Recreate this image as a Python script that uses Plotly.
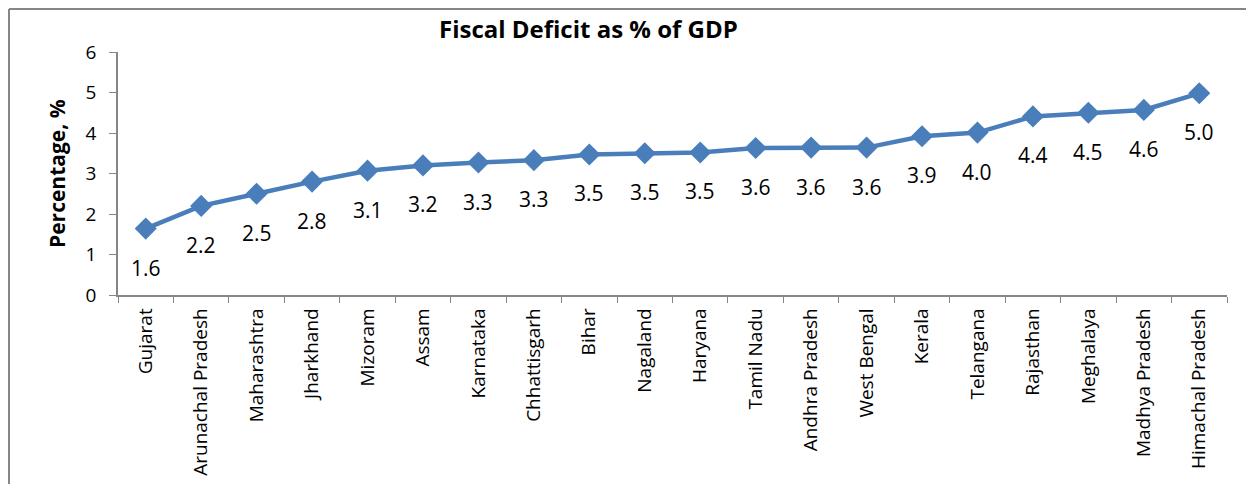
import plotly.graph_objects as go

states = ["Gujarat", "Arunachal Pradesh", "Maharashtra", "Jharkhand", "Mizoram", "Assam",
          "Karnataka", "Chhattisgarh", "Bihar", "Nagaland", "Haryana", "Tamil Nadu",
          "Andhra Pradesh", "West Bengal", "Kerala", "Telangana", "Rajasthan", "Meghalaya",
          "Madhya Pradesh", "Himachal Pradesh"]
deficit = [1.64, 2.2, 2.5, 2.8, 3.07, 3.2, 3.27, 3.33, 3.47, 3.5, 3.52, 3.63, 3.64, 3.64,
           3.92, 4.01, 4.41, 4.5, 4.57, 4.98]
labels = ["1.6", "2.2", "2.5", "2.8", "3.1", "3.2", "3.3", "3.3", "3.5", "3.5", "3.5", "3.6",
          "3.6", "3.6", "3.9", "4.0", "4.4", "4.5", "4.6", "5.0"]
y_ticks = [0, 1, 2, 3, 4, 5, 6]

OFF = 8  # default page body margin
W, H = 1254 - 2 * OFF, 492 - 2 * OFF
L, T = 118 - OFF, 52 - OFF
R = W - (1227 - OFF)
B = H - (295 - OFF)
pw, ph = W - L - R, H - T - B

def px(x):
    return (x - OFF - L) / pw

def py(y):
    return (H - B - (y - OFF)) / ph

FONT = "Open Sans"
BLUE = "#4A7EBB"
AXIS = "#868686"

fig = go.Figure()
fig.add_trace(go.Scatter(
    x=states, y=deficit, mode="lines+markers",
    line=dict(color=BLUE, width=4.5),
    marker=dict(symbol="diamond", size=17, color=BLUE),
    hoverinfo="skip", showlegend=False,
))

for s, v, t in zip(states, deficit, labels):
    fig.add_annotation(x=s, y=v, text=t, showarrow=False, yshift=-39,
                       font=dict(family=FONT, size=21, color="black"))

fig.add_annotation(xref="paper", yref="paper", x=px(588), y=py(28), text="<b>Fiscal Deficit as % of GDP</b>",
                   showarrow=False, font=dict(family=FONT, size=24, color="black"),
                   xanchor="center", yanchor="middle")
fig.add_annotation(xref="paper", yref="paper", x=px(57), y=py(174), text="<b>Percentage, %</b>",
                   textangle=-90, showarrow=False, font=dict(family=FONT, size=21, color="black"),
                   xanchor="center", yanchor="middle")

# chart frame (left and top edges), kept inside the figure
fx0, fy0 = px(OFF + 1), py(OFF + 1)
fx1, fy1 = px(OFF + W), py(OFF + H)
fig.add_shape(type="line", xref="paper", yref="paper", x0=fx0, x1=fx1, y0=fy0, y1=fy0,
              line=dict(color=AXIS, width=2))
fig.add_shape(type="line", xref="paper", yref="paper", x0=fx0, x1=fx0, y0=fy0, y1=fy1,
              line=dict(color=AXIS, width=2))

fig.update_layout(
    width=W, height=H,
    margin=dict(l=L, r=R, t=T, b=B, autoexpand=False),
    paper_bgcolor="white", plot_bgcolor="white",
    font=dict(family=FONT, size=19, color="black"),
)
fig.update_xaxes(
    type="category", tickangle=-90, tickson="boundaries", ticks="outside", ticklen=6,
    tickcolor=AXIS, showline=True, linecolor=AXIS, linewidth=1.5, showgrid=False,
    tickfont=dict(family=FONT, size=19), range=[-0.5, len(states) - 0.5],
    ticklabelstandoff=4, automargin=False,
)
fig.update_yaxes(
    range=[0, 6], tickvals=y_ticks, ticks="outside", ticklen=7, tickcolor=AXIS,
    showline=True, linecolor=AXIS, linewidth=1.5, showgrid=False, zeroline=False,
    tickfont=dict(family=FONT, size=19), ticklabelstandoff=9, automargin=False,
)

fig.write_html("out.html")
